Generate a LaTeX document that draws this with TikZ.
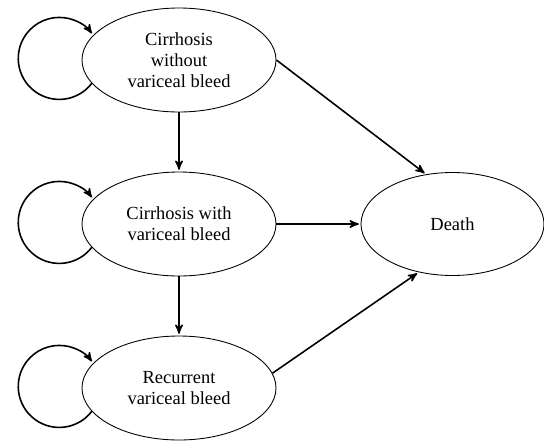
\documentclass[tikz,border=0pt]{standalone}
\usepackage{fontspec}
\setmainfont{Liberation Serif}
\usepackage{tikz}
\usetikzlibrary{arrows,shapes.geometric}

\tikzset{
  stage/.style={ellipse,draw,line width=0.5pt,minimum width=3.88cm,minimum height=2.08cm,
    inner sep=0pt,align=center,font=\fontsize{10.5}{12}\selectfont},
  move/.style={->,line width=0.9pt}
}

\begin{document}
\begin{tikzpicture}[>=stealth',shorten >=1pt,auto,node distance=3.28cm]
  \useasboundingbox (0,0) rectangle (10.88,-8.8);
  \node[stage] (nobleed) at (3.58,-1.2) {Cirrhosis\\without\\variceal bleed};
  \node[stage] (bleed)   [below of=nobleed] {Cirrhosis with\\variceal bleed};
  \node[stage] (recur)   [below of=bleed]   {Recurrent\\variceal bleed};
  \node[stage,minimum width=3.66cm,minimum height=2.06cm]
                 (death) [right of=bleed,node distance=5.47cm] {Death};

  \path[move] (nobleed.south) edge (bleed.north)
              (bleed.south)   edge (recur.north)
              (nobleed.east)  edge (death.118)
              (bleed.east)    edge (death.west)
              (recur.9)       edge (death.235);

  % staying in the same state
  \draw[move] (nobleed.195) arc[start angle=-37.5,end angle=-325,radius=0.82cm];
  \draw[move] (bleed.195)   arc[start angle=-37.5,end angle=-325,radius=0.82cm];
  \draw[move] (recur.195)   arc[start angle=-37.5,end angle=-325,radius=0.82cm];
\end{tikzpicture}
\end{document}
